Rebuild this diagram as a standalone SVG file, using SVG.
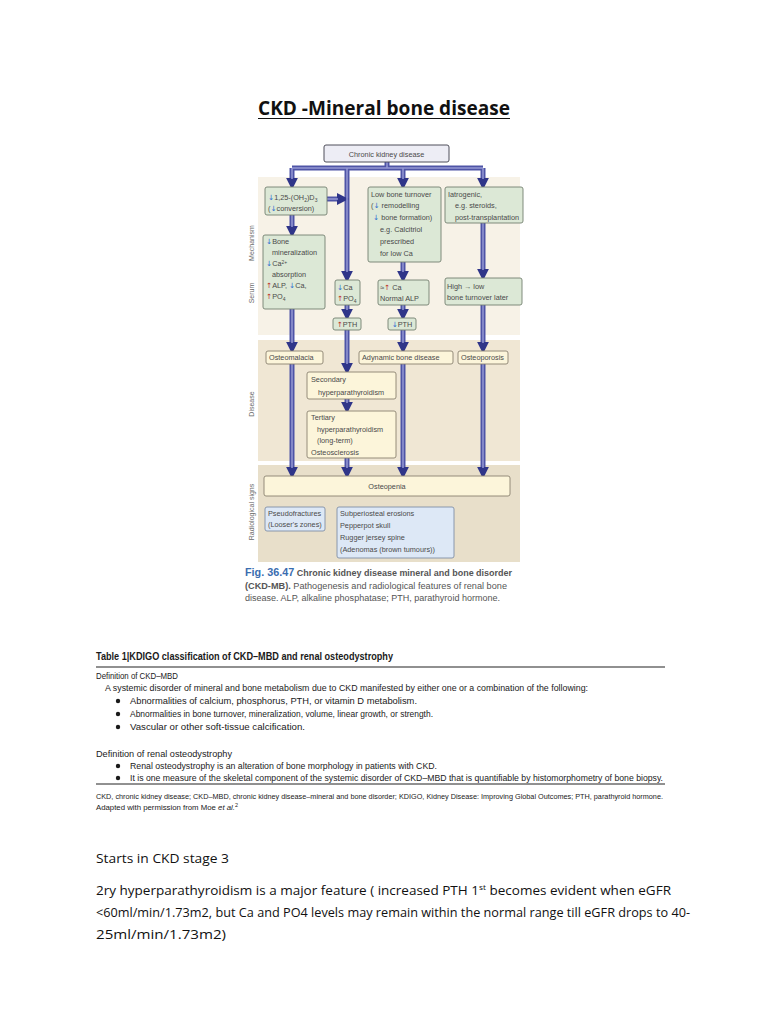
<svg xmlns="http://www.w3.org/2000/svg" width="768" height="1024" viewBox="0 0 768 1024">
<style>
.bg{fill:#ffffff}
.band1{fill:#f7f2e7}
.band2{fill:#f0e7d4}
.band3{fill:#e8dfca}
.g{fill:#dce8d6;stroke:#73806f;stroke-width:0.9}
.y{fill:#fcf5da;stroke:#8a8270;stroke-width:0.9}
.b{fill:#dde8f6;stroke:#7f8ea6;stroke-width:0.9}
.top{fill:#ededf5;stroke:#4e4e5a;stroke-width:1}
.t{font-family:"Liberation Sans",Arial,sans-serif;font-size:7.3px;fill:#4a4a4a}
.side{font-family:"Liberation Sans",Arial,sans-serif;font-size:7px;fill:#6a6a6a}
.dn{fill:#2f6fd0;font-family:"DejaVu Sans",sans-serif}
.up{fill:#c0302a;font-family:"DejaVu Sans",sans-serif}
.outer{fill:none;stroke:#4e54a6;stroke-width:5}
.inner{fill:none;stroke:#9598d4;stroke-width:1.5}
.tb{font-family:"Liberation Sans",Arial,sans-serif;fill:#1a1a1a}
.body{font-family:"Open Sans","Liberation Sans",sans-serif;font-size:13px;fill:#111}
</style>
<defs>
<marker id="ah" markerUnits="userSpaceOnUse" markerWidth="12" markerHeight="12" viewBox="0 0 10 10" refX="1" refY="5" orient="auto">
<path d="M0,0 L10,5 L0,10 z" fill="#2f3589"/>
</marker>
</defs>
<rect class="bg" x="0" y="0" width="768" height="1024"/>

<!-- Title -->
<g id="title">
<text x="384" y="115" text-anchor="middle" font-family="Open Sans,Liberation Sans,sans-serif" font-weight="bold" font-size="19" fill="#111" textLength="252" lengthAdjust="spacingAndGlyphs">CKD -Mineral bone disease</text>
<line x1="258" y1="118.5" x2="510" y2="118.5" stroke="#111" stroke-width="1.2"/>
</g>

<!-- Bands -->
<g id="bands">
<rect class="band1" x="258" y="177" width="262" height="158"/>
<rect class="band2" x="258" y="340" width="262" height="121"/>
<rect class="band3" x="258" y="465" width="262" height="97"/>
<text class="side" transform="translate(254,243) rotate(-90)" text-anchor="middle">Mechanism</text>
<text class="side" transform="translate(254,293) rotate(-90)" text-anchor="middle">Serum</text>
<text class="side" transform="translate(254,404) rotate(-90)" text-anchor="middle">Disease</text>
<text class="side" transform="translate(254,512) rotate(-90)" text-anchor="middle">Radiological signs</text>
</g>

<!-- Connectors -->
<g id="connectors">
<path class="outer" d="M387,162 V168"/>
<path class="outer" d="M292,168 H483"/>
<path class="outer" d="M292,168 V179" marker-end="url(#ah)"/>
<path class="outer" d="M347,168 V272" marker-end="url(#ah)"/>
<path class="outer" d="M403,168 V179" marker-end="url(#ah)"/>
<path class="outer" d="M483,168 V179" marker-end="url(#ah)"/>
<path class="outer" d="M327,199 H338" marker-end="url(#ah)"/>
<path class="outer" d="M292,215 V227" marker-end="url(#ah)"/>
<path class="outer" d="M403,262 V272" marker-end="url(#ah)"/>
<path class="outer" d="M483,223 V270" marker-end="url(#ah)"/>
<path class="outer" d="M347,305 V310" marker-end="url(#ah)"/>
<path class="outer" d="M403,305 V310" marker-end="url(#ah)"/>
<path class="outer" d="M292,309 V343" marker-end="url(#ah)"/>
<path class="outer" d="M347,330 V364" marker-end="url(#ah)"/>
<path class="outer" d="M403,330 V343" marker-end="url(#ah)"/>
<path class="outer" d="M483,305 V343" marker-end="url(#ah)"/>
<path class="outer" d="M347,399 V403" marker-end="url(#ah)"/>
<path class="outer" d="M292,364 V468" marker-end="url(#ah)"/>
<path class="outer" d="M347,458 V468" marker-end="url(#ah)"/>
<path class="outer" d="M403,364 V468" marker-end="url(#ah)"/>
<path class="outer" d="M483,364 V468" marker-end="url(#ah)"/>
<path class="inner" d="M387,162 V168 M292,168 H483 M292,168 V179 M347,168 V272 M403,168 V179 M483,168 V179 M327,199 H338 M292,215 V227 M403,262 V272 M483,223 V270 M347,305 V310 M403,305 V310 M292,309 V343 M347,330 V364 M403,330 V343 M483,305 V343 M347,399 V403 M292,364 V468 M347,458 V468 M403,364 V468 M483,364 V468"/>
</g>

<!-- Nodes -->
<g id="ckd">
<rect class="top" x="324" y="145" width="125" height="17" rx="2"/>
<text class="t" x="386.5" y="156.5" text-anchor="middle" font-size="7.6">Chronic kidney disease</text>
</g>
<g id="vitd">
<rect class="g" x="265" y="187" width="62" height="28" rx="2"/>
<text class="t" x="268" y="200"><tspan class="dn">↓</tspan>1,25-(OH<tspan font-size="5" dy="1.5">2</tspan><tspan dy="-1.5">)D</tspan><tspan font-size="5" dy="1.5">3</tspan></text>
<text class="t" x="268" y="211">(<tspan class="dn">↓</tspan>conversion)</text>
</g>
<g id="bonemin">
<rect class="g" x="263" y="235" width="62" height="74" rx="2"/>
<text class="t" x="266" y="244"><tspan class="dn">↓</tspan>Bone</text>
<text class="t" x="272" y="255">mineralization</text>
<text class="t" x="266" y="266"><tspan class="dn">↓</tspan>Ca<tspan font-size="5" dy="-2.5">2+</tspan></text>
<text class="t" x="272" y="277">absorption</text>
<text class="t" x="266" y="288"><tspan class="up">↑</tspan>ALP, <tspan class="dn">↓</tspan>Ca,</text>
<text class="t" x="266" y="299"><tspan class="up">↑</tspan>PO<tspan font-size="5" dy="1.5">4</tspan></text>
</g>
<g id="lowturnover">
<rect class="g" x="368" y="187" width="73" height="75" rx="2"/>
<text class="t" x="371" y="197">Low bone turnover</text>
<text class="t" x="371" y="208">(<tspan class="dn">↓</tspan> remodelling</text>
<text class="t" x="373" y="220"><tspan class="dn">↓</tspan> bone formation)</text>
<text class="t" x="380" y="232">e.g. Calcitriol</text>
<text class="t" x="380" y="244">prescribed</text>
<text class="t" x="380" y="256">for low Ca</text>
</g>
<g id="iatrogenic">
<rect class="g" x="445" y="187" width="78" height="36" rx="2"/>
<text class="t" x="448" y="197">Iatrogenic,</text>
<text class="t" x="455" y="208">e.g. steroids,</text>
<text class="t" x="455" y="220">post-transplantation</text>
</g>
<g id="serumca">
<rect class="g" x="335" y="280" width="25" height="25" rx="2"/>
<text class="t" x="337" y="290"><tspan class="dn">↓</tspan>Ca</text>
<text class="t" x="337" y="301"><tspan class="up">↑</tspan>PO<tspan font-size="5" dy="1.5">4</tspan></text>
</g>
<g id="normalalp">
<rect class="g" x="378" y="280" width="51" height="25" rx="2"/>
<text class="t" x="380" y="290">≈<tspan class="up">↑</tspan> Ca</text>
<text class="t" x="380" y="301">Normal ALP</text>
</g>
<g id="hightolow">
<rect class="g" x="445" y="278" width="77" height="27" rx="2"/>
<text class="t" x="447" y="289">High → low</text>
<text class="t" x="447" y="300">bone turnover later</text>
</g>
<g id="pthup">
<rect class="g" x="333" y="318" width="28" height="12" rx="2"/>
<text class="t" x="347" y="327" text-anchor="middle"><tspan class="up">↑</tspan>PTH</text>
</g>
<g id="pthdown">
<rect class="g" x="388" y="318" width="28" height="12" rx="2"/>
<text class="t" x="402" y="327" text-anchor="middle"><tspan class="dn">↓</tspan>PTH</text>
</g>
<g id="osteomalacia">
<rect class="y" x="266" y="351" width="57" height="13" rx="2"/>
<text class="t" x="269" y="360">Osteomalacia</text>
</g>
<g id="adynamic">
<rect class="y" x="359" y="351" width="94" height="13" rx="2"/>
<text class="t" x="362" y="360">Adynamic bone disease</text>
</g>
<g id="osteoporosis">
<rect class="y" x="458" y="351" width="50" height="13" rx="2"/>
<text class="t" x="461" y="360">Osteoporosis</text>
</g>
<g id="secondary">
<rect class="y" x="307" y="372" width="89" height="27" rx="2"/>
<text class="t" x="311" y="382">Secondary</text>
<text class="t" x="318" y="395">hyperparathyroidism</text>
</g>
<g id="tertiary">
<rect class="y" x="307" y="411" width="89" height="47" rx="2"/>
<text class="t" x="311" y="420">Tertiary</text>
<text class="t" x="317" y="432">hyperparathyroidism</text>
<text class="t" x="317" y="443">(long-term)</text>
<text class="t" x="311" y="455">Osteosclerosis</text>
</g>
<g id="osteopenia">
<rect class="y" x="264" y="476" width="246" height="20" rx="2"/>
<text class="t" x="387" y="489" text-anchor="middle">Osteopenia</text>
</g>
<g id="pseudofractures">
<rect class="b" x="265" y="507" width="60" height="24" rx="2"/>
<text class="t" x="268" y="516">Pseudofractures</text>
<text class="t" x="268" y="527">(Looser's zones)</text>
</g>
<g id="subperiosteal">
<rect class="b" x="337" y="507" width="117" height="51" rx="2"/>
<text class="t" x="340" y="516">Subperiosteal erosions</text>
<text class="t" x="340" y="528">Pepperpot skull</text>
<text class="t" x="340" y="540">Rugger jersey spine</text>
<text class="t" x="340" y="552">(Adenomas (brown tumours))</text>
</g>

<!-- Caption -->
<g id="caption" font-family="Liberation Sans,Arial,sans-serif">
<text x="245" y="576" font-size="8.3" fill="#555" textLength="267" lengthAdjust="spacingAndGlyphs"><tspan fill="#3a6db0" font-weight="bold" font-size="10">Fig. 36.47</tspan><tspan font-weight="bold"> Chronic kidney disease mineral and bone disorder</tspan></text>
<text x="245" y="589" font-size="8.3" fill="#555" textLength="262" lengthAdjust="spacingAndGlyphs"><tspan font-weight="bold">(CKD-MB).</tspan> Pathogenesis and radiological features of renal bone</text>
<text x="245" y="601" font-size="8.3" fill="#555" textLength="255" lengthAdjust="spacingAndGlyphs">disease. ALP, alkaline phosphatase; PTH, parathyroid hormone.</text>
</g>

<!-- Table -->
<g id="table">
<text class="tb" x="96" y="660" font-size="11.5" font-weight="bold" textLength="297" lengthAdjust="spacingAndGlyphs">Table 1|KDIGO classification of CKD–MBD and renal osteodystrophy</text>
<line x1="96" y1="667" x2="665" y2="667" stroke="#222" stroke-width="1.2"/>
<text class="tb" x="96" y="679" font-size="9.3" textLength="82" lengthAdjust="spacingAndGlyphs">Definition of CKD–MBD</text>
<text class="tb" x="105" y="691" font-size="9.3" textLength="483" lengthAdjust="spacingAndGlyphs">A systemic disorder of mineral and bone metabolism due to CKD manifested by either one or a combination of the following:</text>
<circle cx="118" cy="701" r="2.2" fill="#1a1a1a"/>
<text class="tb" x="130" y="704" font-size="9.3" textLength="287" lengthAdjust="spacingAndGlyphs">Abnormalities of calcium, phosphorus, PTH, or vitamin D metabolism.</text>
<circle cx="118" cy="714" r="2.2" fill="#1a1a1a"/>
<text class="tb" x="130" y="717" font-size="9.3" textLength="303" lengthAdjust="spacingAndGlyphs">Abnormalities in bone turnover, mineralization, volume, linear growth, or strength.</text>
<circle cx="118" cy="727" r="2.2" fill="#1a1a1a"/>
<text class="tb" x="130" y="730" font-size="9.3" textLength="175" lengthAdjust="spacingAndGlyphs">Vascular or other soft-tissue calcification.</text>
<text class="tb" x="96" y="757" font-size="9.3" textLength="136" lengthAdjust="spacingAndGlyphs">Definition of renal osteodystrophy</text>
<circle cx="118" cy="766" r="2.2" fill="#1a1a1a"/>
<text class="tb" x="130" y="769" font-size="9.3" textLength="307" lengthAdjust="spacingAndGlyphs">Renal osteodystrophy is an alteration of bone morphology in patients with CKD.</text>
<circle cx="118" cy="778" r="2.2" fill="#1a1a1a"/>
<text class="tb" x="130" y="781" font-size="9.3" textLength="533" lengthAdjust="spacingAndGlyphs">It is one measure of the skeletal component of the systemic disorder of CKD–MBD that is quantifiable by histomorphometry of bone biopsy.</text>
<line x1="96" y1="784" x2="665" y2="784" stroke="#222" stroke-width="1"/>
<text class="tb" x="96" y="799" font-size="7.8" textLength="567" lengthAdjust="spacingAndGlyphs">CKD, chronic kidney disease; CKD–MBD, chronic kidney disease–mineral and bone disorder; KDIGO, Kidney Disease: Improving Global Outcomes; PTH, parathyroid hormone.</text>
<text class="tb" x="96" y="810" font-size="7.8" textLength="142" lengthAdjust="spacingAndGlyphs">Adapted with permission from Moe <tspan font-style="italic">et al.</tspan><tspan font-size="5.5" dy="-3">2</tspan></text>
</g>

<!-- Body text -->
<g id="bodytext">
<text class="body" x="96" y="863" textLength="133" lengthAdjust="spacingAndGlyphs">Starts in CKD stage 3</text>
<text class="body" x="96" y="895" textLength="575" lengthAdjust="spacingAndGlyphs">2ry hyperparathyroidism is a major feature ( increased PTH 1<tspan font-size="8" dy="-5">st</tspan><tspan dy="5"> becomes evident when eGFR</tspan></text>
<text class="body" x="96" y="917" textLength="594" lengthAdjust="spacingAndGlyphs">&lt;60ml/min/1.73m2, but Ca and PO4 levels may remain within the normal range till eGFR drops to 40-</text>
<text class="body" x="96" y="939" textLength="130" lengthAdjust="spacingAndGlyphs">25ml/min/1.73m2)</text>
</g>
</svg>
